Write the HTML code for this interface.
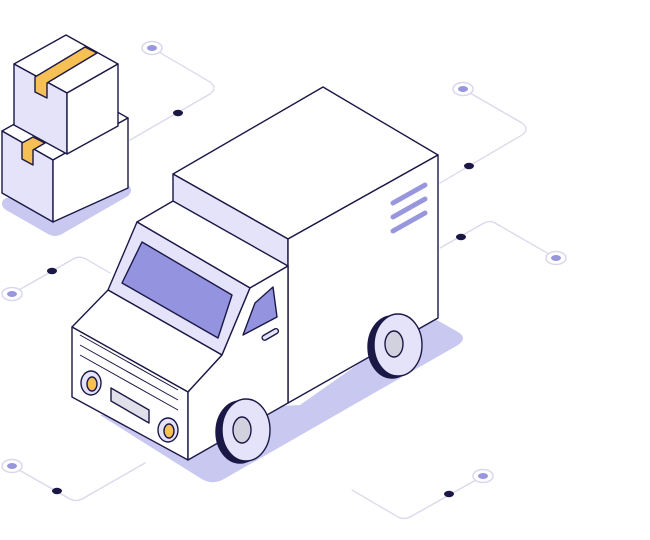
<!DOCTYPE html>
<html><head><meta charset="utf-8"><style>html,body{margin:0;padding:0;background:#fff}svg{display:block}</style></head><body>
<svg width="650" height="540" viewBox="0 0 650 540" xmlns="http://www.w3.org/2000/svg">
<g fill="none" stroke="#d9d8ec" stroke-width="1.3" stroke-linecap="round" stroke-linejoin="round">
<path d="M152,48 L210,82 Q218,88 210,94 L130,140"/>
<path d="M463,89 L522,123 Q530,129 522,135 L440,183"/>
<path d="M556,258 L495,223 Q490,220 484,223 L440,248"/>
<path d="M12,294 L75,258 Q80,256 86,259 L110,273"/>
<path d="M12,466 L70,499 Q76,502 82,499 L145,463"/>
<path d="M483,476 L410,517 Q404,520 398,517 L352,490"/>
</g>
<g fill="#fff" stroke="#d9d8ec" stroke-width="1.5">
<ellipse cx="152" cy="48" rx="10" ry="6.5"/><ellipse cx="463" cy="89" rx="10" ry="6.5"/>
<ellipse cx="556" cy="258" rx="10" ry="6.5"/><ellipse cx="12" cy="294" rx="10" ry="6.5"/>
<ellipse cx="12" cy="466" rx="10" ry="6.5"/><ellipse cx="483" cy="476" rx="10" ry="6.5"/>
</g>
<g fill="#9896dd">
<ellipse cx="152" cy="48" rx="5" ry="3"/><ellipse cx="463" cy="89" rx="5" ry="3"/>
<ellipse cx="556" cy="258" rx="5" ry="3"/><ellipse cx="12" cy="294" rx="5" ry="3"/>
<ellipse cx="12" cy="466" rx="5" ry="3"/><ellipse cx="483" cy="476" rx="5" ry="3"/>
</g>
<g fill="#1b1846">
<ellipse cx="178" cy="113" rx="5" ry="3.2"/><ellipse cx="469" cy="166" rx="5" ry="3.2"/>
<ellipse cx="461" cy="237" rx="5" ry="3.2"/><ellipse cx="52" cy="271" rx="5" ry="3.2"/>
<ellipse cx="57" cy="491" rx="5" ry="3.2"/><ellipse cx="449" cy="494" rx="5" ry="3.2"/>
</g>
<!-- shadows -->
<path d="M3,200 Q0,206 6,210 L48,234 Q55,238 62,234 L128,196 Q134,190 128,185 L115,178 L6,198 Z" fill="#c9c8f0"/>
<path d="M100,415 L200,478 Q212,486 224,479 L458,345 Q468,338 458,332 L428,315 L300,405 Z" fill="#c9c8f0"/>
<g stroke="#1b1846" stroke-width="1.4" stroke-linejoin="round">
<path d="M2,131 L77,89 L128,118 L53,160 Z" fill="#fff"/>
<path d="M2,131 L53,160 L53,222 L2,193 Z" fill="#e4e3fa"/>
<path d="M53,160 L128,118 L128,188 L53,222 Z" fill="#fff"/>
<path d="M22,143 L33,137 L45,143 L33,150 L33,165 L22,159 Z" fill="#f6c055"/>
<path d="M14,64 L66,35 L118,64 L67,93 Z" fill="#fff"/>
<path d="M14,64 L67,93 L67,154 L14,125 Z" fill="#e4e3fa"/>
<path d="M67,93 L118,64 L118,126 L67,154 Z" fill="#fff"/>
<path d="M35,77 L85,47 L97,53 L47,83 L47,98 L35,92 Z" fill="#f6c055"/>
<path d="M173,174 L323,87 L438,155 L288,239 Z" fill="#fff"/>
<path d="M173,174 L288,239 L288,268 L173,202 Z" fill="#e4e3fa"/>
<path d="M288,239 L438,155 L438,318 L288,403 Z" fill="#fff"/>
<path d="M137,222 L173,201 L288,266 L250,288 Z" fill="#fff"/>
<path d="M137,222 L250,288 L222,355 L108,290 Z" fill="#e4e3fa"/>
<path d="M108,290 L222,355 L188,392 L72,327 Z" fill="#fff"/>
<path d="M72,327 L188,392 L188,460 L72,397 Z" fill="#fff"/>
<path d="M188,392 L222,355 L250,288 L288,266 L288,403 L188,460 Z" fill="#fff"/>
<path d="M142,242 L232,295 L218,338 L122,283 Z" fill="#9493e0"/>
<path d="M273,287 L277,317 L243,335 L255,303 Z" fill="#9493e0"/>
<rect x="261" y="332" width="18" height="5" rx="2.5" transform="rotate(-30 270 334)" fill="#e4e3fa"/>
<path d="M80,335 L178,390 M80,345 L178,400 M80,355 L178,410" fill="none" stroke-width="1"/>
<path d="M111,388 L149,410 L149,423 L111,401 Z" fill="#e0e0ea"/>
<ellipse cx="91" cy="383" rx="10" ry="12" fill="#e4e3fa"/><ellipse cx="92" cy="384" rx="5" ry="7" fill="#f6c055"/>
<ellipse cx="168" cy="430" rx="10" ry="12" fill="#e4e3fa"/><ellipse cx="169" cy="431" rx="5" ry="7" fill="#f6c055"/>
<ellipse cx="240" cy="432" rx="24" ry="31" fill="#1b1846"/>
<ellipse cx="246" cy="430" rx="24" ry="31" fill="#e4e3fa"/>
<ellipse cx="242" cy="430" rx="9" ry="13" fill="#d2d2de"/>
<ellipse cx="392" cy="347" rx="24" ry="31" fill="#1b1846"/>
<ellipse cx="398" cy="345" rx="24" ry="31" fill="#e4e3fa"/>
<ellipse cx="394" cy="344" rx="9" ry="13" fill="#d2d2de"/>
</g>
<g stroke="#9896dd" stroke-width="5" stroke-linecap="round">
<path d="M393,203 L425,185 M393,217 L425,199 M393,231 L425,213"/>
</g>
</svg>
</body></html>
